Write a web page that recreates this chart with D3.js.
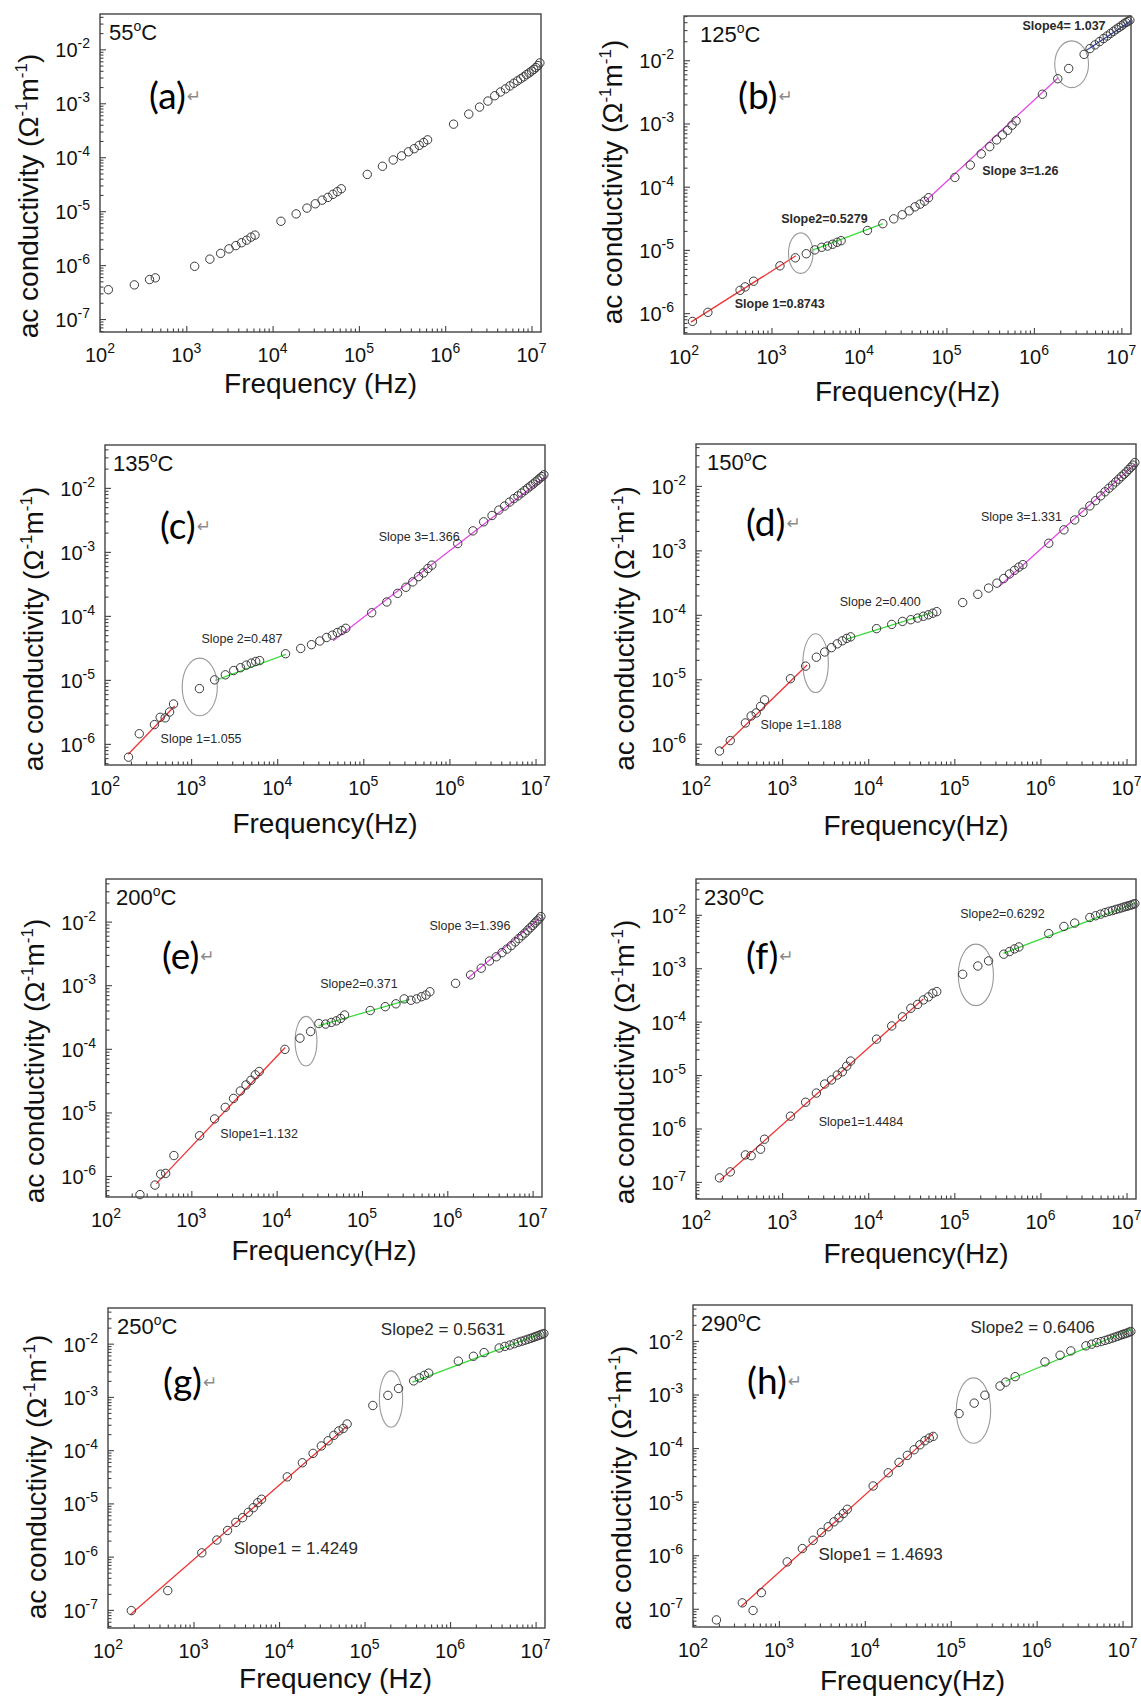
<!DOCTYPE html>
<html><head><meta charset="utf-8">
<script src="https://cdn.jsdelivr.net/npm/d3@7"></script>
<style>body{margin:0;background:#fff}svg{display:block}</style>
</head><body><svg id="c" width="1141" height="1698"></svg>
<script>
// ---------------- DATA ----------------
const temps = ["55","125","135","150","200","230","250","290"];
const letters = ["a","b","c","d","e","f","g","h"];
const xTickExps = [2,3,4,5,6,7];
const yTickExpsWide = [-7,-6,-5,-4,-3,-2];
const yTickExpsNarrow = [-6,-5,-4,-3,-2];

const data55 = [[125,3.5e-7],[250,4.3e-7],[375,5.4e-7],[437.5,5.8e-7],
[1250,9.5e-7],[1875,1.29e-6],[2500,1.65e-6],[3125,2.0e-6],[3750,2.3e-6],[4375,2.6e-6],[5000,2.9e-6],[5625,3.3e-6],[6250,3.6e-6],
[12500,6.5e-6],[18750,8.9e-6],[25000,1.14e-5],[31250,1.37e-5],[37500,1.6e-5],[43750,1.8e-5],[50000,2.05e-5],[56250,2.3e-5],[62500,2.6e-5],
[125000,4.8e-5],[187500,6.8e-5],[250000,8.9e-5],[312500,1.06e-4],[375000,1.26e-4],[437500,1.44e-4],[500000,1.66e-4],[562500,1.87e-4],[625000,2.1e-4],
[1.25e6,4.1e-4],[1.875e6,6.3e-4],[2.5e6,8.5e-4],[3.125e6,1.1e-3],[3.75e6,1.38e-3],[4.375e6,1.62e-3],[5e6,1.85e-3],[5.625e6,2.1e-3],[6.25e6,2.35e-3],[6.875e6,2.6e-3],[7.5e6,2.85e-3],[8.125e6,3.1e-3],[8.75e6,3.4e-3],[9.375e6,3.65e-3],[1e7,3.95e-3],[1.0625e7,4.25e-3],[1.125e7,4.6e-3],[1.1875e7,5.0e-3],[1.25e7,5.6e-3]];

const data125 = [[125,7.4e-7],[187.5,1.03e-6],[437.5,2.3e-6],[500,2.6e-6],[625,3.2e-6],
[1250,5.6e-6],[1875,7.5e-6],[2500,8.7e-6],[3125,1.0e-5],[3750,1.1e-5],[4375,1.15e-5],[5000,1.23e-5],[5625,1.32e-5],[6250,1.4e-5],
[12500,2.03e-5],[18750,2.6e-5],[25000,3.1e-5],[31250,3.6e-5],[37500,4.15e-5],[43750,4.8e-5],[50000,5.3e-5],[56250,5.9e-5],[62500,6.7e-5],
[125000,1.4e-4],[187500,2.2e-4],[250000,3.3e-4],[312500,4.3e-4],[375000,5.5e-4],[437500,6.6e-4],[500000,7.8e-4],[562500,9.4e-4],[625000,1.1e-3],
[1.25e6,2.9e-3],[1.875e6,5.1e-3],[2.5e6,7.4e-3],[3.75e6,1.24e-2],[4.375e6,1.53e-2],[5e6,1.75e-2],[5.625e6,1.97e-2],[6.25e6,2.2e-2],[6.875e6,2.42e-2],[7.5e6,2.65e-2],[8.125e6,2.87e-2],[8.75e6,3.1e-2],[9.375e6,3.3e-2],[1e7,3.5e-2],[1.0625e7,3.75e-2],[1.125e7,3.95e-2],[1.1875e7,4.1e-2],[1.25e7,4.3e-2]];

const data135 = [[187.5,6.2e-7],[250,1.44e-6],[375,2.0e-6],[437.5,2.6e-6],[500,2.55e-6],[562.5,3.15e-6],[625,4.2e-6],
[1250,7.3e-6],[1875,1.0e-5],[2500,1.2e-5],[3125,1.4e-5],[3750,1.55e-5],[4375,1.7e-5],[5000,1.83e-5],[5625,1.94e-5],[6250,2.0e-5],
[12500,2.56e-5],[18750,3.1e-5],[25000,3.55e-5],[31250,4.05e-5],[37500,4.6e-5],[43750,5.0e-5],[50000,5.5e-5],[56250,5.9e-5],[62500,6.4e-5],
[125000,1.12e-4],[187500,1.65e-4],[250000,2.25e-4],[312500,2.8e-4],[375000,3.4e-4],[437500,4.1e-4],[500000,4.7e-4],[562500,5.5e-4],[625000,6.2e-4],
[1.25e6,1.35e-3],[1.875e6,2.13e-3],[2.5e6,2.95e-3],[3.125e6,3.7e-3],[3.75e6,4.5e-3],[4.375e6,5.2e-3],[5e6,6.0e-3],[5.625e6,6.8e-3],[6.25e6,7.5e-3],[6.875e6,8.3e-3],[7.5e6,9.1e-3],[8.125e6,9.9e-3],[8.75e6,1.07e-2],[9.375e6,1.15e-2],[1e7,1.24e-2],[1.0625e7,1.32e-2],[1.125e7,1.42e-2],[1.1875e7,1.5e-2],[1.25e7,1.6e-2]];

const data150 = [[187.5,7.7e-7],[250,1.12e-6],[375,2.1e-6],[437.5,2.7e-6],[500,3.0e-6],[562.5,3.8e-6],[625,4.8e-6],
[1250,1.02e-5],[1875,1.6e-5],[2500,2.2e-5],[3125,2.65e-5],[3750,3.1e-5],[4375,3.55e-5],[5000,3.95e-5],[5625,4.3e-5],[6250,4.55e-5],
[12500,6.1e-5],[18750,7.1e-5],[25000,7.9e-5],[31250,8.4e-5],[37500,8.9e-5],[43750,9.5e-5],[50000,1.0e-4],[56250,1.06e-4],[62500,1.12e-4],
[125000,1.55e-4],[187500,2.08e-4],[250000,2.6e-4],[312500,3.1e-4],[375000,3.65e-4],[437500,4.3e-4],[500000,4.9e-4],[562500,5.5e-4],[625000,6.0e-4],
[1.25e6,1.29e-3],[1.875e6,2.08e-3],[2.5e6,2.96e-3],[3.125e6,3.9e-3],[3.75e6,4.9e-3],[4.375e6,5.9e-3],[5e6,7.0e-3],[5.625e6,8.1e-3],[6.25e6,9.2e-3],[6.875e6,1.03e-2],[7.5e6,1.15e-2],[8.125e6,1.27e-2],[8.75e6,1.4e-2],[9.375e6,1.52e-2],[1e7,1.65e-2],[1.0625e7,1.8e-2],[1.125e7,1.95e-2],[1.1875e7,2.1e-2],[1.25e7,2.3e-2]];

const data200 = [[250,5.1e-7],[375,7.2e-7],[437.5,1.07e-6],[500,1.1e-6],[625,2.1e-6],
[1250,4.3e-6],[1875,7.9e-6],[2500,1.2e-5],[3125,1.66e-5],[3750,2.17e-5],[4375,2.7e-5],[5000,3.2e-5],[5625,3.9e-5],[6250,4.4e-5],
[12500,9.8e-5],[18750,1.47e-4],[25000,1.87e-4],[31250,2.5e-4],[37500,2.45e-4],[43750,2.6e-4],[50000,2.75e-4],[56250,3.0e-4],[62500,3.4e-4],
[125000,4.0e-4],[187500,4.6e-4],[250000,5.1e-4],[312500,6.1e-4],[375000,5.8e-4],[437500,6.1e-4],[500000,6.6e-4],[562500,7.0e-4],[625000,7.9e-4],
[1.25e6,1.07e-3],[1.875e6,1.45e-3],[2.5e6,1.85e-3],[3.125e6,2.4e-3],[3.75e6,2.8e-3],[4.375e6,3.25e-3],[5e6,3.7e-3],[5.625e6,4.2e-3],[6.25e6,4.8e-3],[6.875e6,5.4e-3],[7.5e6,6.0e-3],[8.125e6,6.6e-3],[8.75e6,7.3e-3],[9.375e6,8.0e-3],[1e7,8.7e-3],[1.0625e7,9.5e-3],[1.125e7,1.03e-2],[1.1875e7,1.1e-2],[1.25e7,1.2e-2]];

const data230 = [[187.5,1.19e-7],[250,1.54e-7],[375,3.2e-7],[437.5,3.1e-7],[562.5,4.1e-7],[625,6.3e-7],
[1250,1.7e-6],[1875,3.1e-6],[2500,4.6e-6],[3125,6.8e-6],[3750,8.1e-6],[4375,1.0e-5],[5000,1.15e-5],[5625,1.47e-5],[6250,1.83e-5],
[12500,4.7e-5],[18750,8.3e-5],[25000,1.23e-4],[31250,1.78e-4],[37500,2.1e-4],[43750,2.55e-4],[50000,2.9e-4],[56250,3.4e-4],[62500,3.65e-4],
[125000,7.7e-4],[187500,1.1e-3],[250000,1.37e-3],[375000,1.83e-3],[437500,2.05e-3],[500000,2.3e-3],[562500,2.5e-3],
[1.25e6,4.45e-3],[1.875e6,6.05e-3],[2.5e6,7.0e-3],[3.75e6,8.9e-3],[4.375e6,9.6e-3],[5e6,1.03e-2],[5.625e6,1.1e-2],[6.25e6,1.16e-2],[6.875e6,1.2e-2],[7.5e6,1.26e-2],[8.125e6,1.3e-2],[8.75e6,1.35e-2],[9.375e6,1.4e-2],[1e7,1.44e-2],[1.0625e7,1.48e-2],[1.125e7,1.52e-2],[1.1875e7,1.57e-2],[1.25e7,1.62e-2]];

const data250 = [[187.5,9.7e-8],[500,2.3e-7],
[1250,1.18e-6],[1875,2.05e-6],[2500,3.1e-6],[3125,4.4e-6],[3750,5.4e-6],[4375,6.8e-6],[5000,8.3e-6],[5625,1.03e-5],[6250,1.2e-5],
[12500,3.15e-5],[18750,5.8e-5],[25000,8.7e-5],[31250,1.2e-4],[37500,1.5e-4],[43750,1.9e-4],[50000,2.3e-4],[56250,2.55e-4],[62500,3.1e-4],
[125000,6.9e-4],[187500,1.07e-3],[250000,1.44e-3],[375000,2.0e-3],[437500,2.28e-3],[500000,2.55e-3],[562500,2.8e-3],
[1.25e6,4.7e-3],[1.875e6,5.8e-3],[2.5e6,6.8e-3],[3.75e6,8.3e-3],[4.375e6,8.9e-3],[5e6,9.4e-3],[5.625e6,1.0e-2],[6.25e6,1.06e-2],[6.875e6,1.11e-2],[7.5e6,1.16e-2],[8.125e6,1.21e-2],[8.75e6,1.26e-2],[9.375e6,1.31e-2],[1e7,1.36e-2],[1.0625e7,1.41e-2],[1.125e7,1.46e-2],[1.1875e7,1.5e-2],[1.25e7,1.55e-2]];

const data290 = [[187.5,6.2e-8],[375,1.29e-7],[500,9.3e-8],[625,2.0e-7],
[1250,7.5e-7],[1875,1.33e-6],[2500,1.9e-6],[3125,2.66e-6],[3750,3.4e-6],[4375,4.2e-6],[5000,5.0e-6],[5625,6.0e-6],[6250,7.2e-6],
[12500,1.96e-5],[18750,3.45e-5],[25000,5.4e-5],[31250,7.3e-5],[37500,9.3e-5],[43750,1.15e-4],[50000,1.37e-4],[56250,1.54e-4],[62500,1.65e-4],
[125000,4.4e-4],[187500,6.9e-4],[250000,9.7e-4],[375000,1.44e-3],[437500,1.7e-3],[562500,2.15e-3],
[1.25e6,4.05e-3],[1.875e6,5.4e-3],[2.5e6,6.5e-3],[3.75e6,8.1e-3],[4.375e6,8.7e-3],[5e6,9.3e-3],[5.625e6,9.7e-3],[6.25e6,1.02e-2],[6.875e6,1.07e-2],[7.5e6,1.12e-2],[8.125e6,1.17e-2],[8.75e6,1.22e-2],[9.375e6,1.27e-2],[1e7,1.32e-2],[1.0625e7,1.36e-2],[1.125e7,1.4e-2],[1.1875e7,1.45e-2],[1.25e7,1.5e-2]];

// linear fits in log-log space: [f1, sigma1, f2, sigma2]
const fits55 = [];
const fits125 = [[120,7.2e-7,1900,8.1e-6],[2900,9.8e-6,18750,2.6e-5],[57500,5.9e-5,1.9e6,5.3e-3],[4.0e6,1.44e-2,1.29e7,4.2e-2]];
const fits135 = [[186,6.9e-7,645,3.9e-6],[1900,9.8e-6,12600,2.5e-5],[44700,4.1e-5,1.29e7,1.48e-2]];
const fits150 = [[195,8.3e-7,1950,1.66e-5],[5500,4.17e-5,53700,1.07e-4],[331000,2.75e-4,1.29e7,2.24e-2]];
const fits200 = [[389,7.6e-7,12600,1.05e-4],[30900,2.29e-4,363000,6.0e-4],[1.74e6,1.29e-3,1.2e7,1.12e-2]];
const fits230 = [[190,1.07e-7,43600,2.66e-4],[372000,1.9e-3,1.26e7,1.66e-2]];
const fits250 = [[182,8.1e-8,63000,2.88e-4],[363000,1.9e-3,1.15e7,1.55e-2]];
const fits290 = [[363,1.1e-7,63000,1.9e-4],[437000,1.78e-3,1.29e7,1.66e-2]];

const slopes55 = [];
const slopes125 = ["Slope 1=0.8743","Slope2=0.5279","Slope 3=1.26","Slope4= 1.037"];
const slopes135 = ["Slope 1=1.055","Slope 2=0.487","Slope 3=1.366"];
const slopes150 = ["Slope 1=1.188","Slope 2=0.400","Slope 3=1.331"];
const slopes200 = ["Slope1=1.132","Slope2=0.371","Slope 3=1.396"];
const slopes230 = ["Slope1=1.4484","Slope2=0.6292"];
const slopes250 = ["Slope1 = 1.4249","Slope2 = 0.5631"];
const slopes290 = ["Slope1 = 1.4693","Slope2 = 0.6406"];

// circled outlier groups: [centre f, centre sigma, half-width (decades), half-height (decades)]
const rings55 = [];
const rings125 = [[2160,8.9e-6,0.14,0.32],[2.7e6,8.65e-3,0.193,0.37]];
const rings135 = [[1260,7.76e-6,0.204,0.45]];
const rings150 = [[2450,1.78e-5,0.148,0.456]];
const rings200 = [[22100,1.32e-4,0.128,0.39]];
const rings230 = [[178000,7.5e-4,0.204,0.575]];
const rings250 = [[204000,9.1e-4,0.136,0.53]];
const rings290 = [[184000,5.0e-4,0.2,0.61]];

// ---------------- LAYOUT / STYLE ----------------
const FMIN = 100, FMAX = Math.pow(10, 7.11);
const fitColors = ["#ef3535", "#3cdc3c", "#e24ae2", "#3346b0"];
const layout = [
 {data:data55, fits:fits55, slopes:slopes55, rings:rings55, box:[100,14,541,332], yLo:-7.24, yHi:-1.345, yt:yTickExpsWide,
  notes:[], nf:{size:12.5,weight:"normal"}, xTitle:"Frequency (Hz)", xtDy:61, xtDx:0, ytDy:23, letter:[49,95], tx:9},
 {data:data125, fits:fits125, slopes:slopes125, rings:rings125, box:[684,16,1131,334], yLo:-6.33, yHi:-1.3, yt:yTickExpsNarrow,
  notes:[[380,1.41e-6],[1290,3.16e-5],[257000,1.78e-4],[741000,3.47e-2]], nf:{size:12.5,weight:"bold"}, xTitle:"Frequency(Hz)", xtDy:67, xtDx:0, ytDy:7, letter:[54,93], tx:16},
 {data:data135, fits:fits135, slopes:slopes135, rings:rings135, box:[105,445,545,765], yLo:-6.33, yHi:-1.33, yt:yTickExpsNarrow,
  notes:[[442,1.23e-6],[1318,4.37e-5],[151000,1.74e-3]], nf:{size:12.5,weight:"normal"}, xTitle:"Frequency(Hz)", xtDy:68, xtDx:0, ytDy:24, letter:[55,94], tx:8},
 {data:data150, fits:fits150, slopes:slopes150, rings:rings150, box:[696,444,1136,765], yLo:-6.33, yHi:-1.35, yt:yTickExpsNarrow,
  notes:[[562,2.0e-6],[4677,1.58e-4],[204000,3.39e-3]], nf:{size:12.5,weight:"normal"}, xTitle:"Frequency(Hz)", xtDy:70, xtDx:0, ytDy:24, letter:[50,92], tx:11},
 {data:data200, fits:fits200, slopes:slopes200, rings:rings200, box:[106,879,542,1197], yLo:-6.33, yHi:-1.33, yt:yTickExpsNarrow,
  notes:[[2188,4.57e-6],[32400,1.05e-3],[617000,8.7e-3]], nf:{size:12.5,weight:"normal"}, xTitle:"Frequency(Hz)", xtDy:63, xtDx:0, ytDy:23, letter:[56,90], tx:10},
 {data:data230, fits:fits230, slopes:slopes230, rings:rings230, box:[696,879,1136,1199], yLo:-7.32, yHi:-1.33, yt:yTickExpsWide,
  notes:[[2660,1.33e-6],[117000,1.05e-2]], nf:{size:12.5,weight:"normal"}, xTitle:"Frequency(Hz)", xtDy:64, xtDx:0, ytDy:23, letter:[50,90], tx:8},
 {data:data250, fits:fits250, slopes:slopes250, rings:rings250, box:[108,1308,545,1628], yLo:-7.34, yHi:-1.33, yt:yTickExpsWide,
  notes:[[2950,1.48e-6],[155000,1.9e-2]], nf:{size:17,weight:"normal"}, xTitle:"Frequency (Hz)", xtDy:60, xtDx:9, ytDy:9, letter:[55,87], tx:9},
 {data:data290, fits:fits290, slopes:slopes290, rings:rings290, box:[693,1305,1132,1627], yLo:-7.34, yHi:-1.33, yt:yTickExpsWide,
  notes:[[2884,1.05e-6],[170000,1.78e-2]], nf:{size:17,weight:"normal"}, xTitle:"Frequency(Hz)", xtDy:63, xtDx:0, ytDy:22, letter:[54,89], tx:8}
];

const FONT = "'Liberation Sans', Arial, Helvetica, sans-serif";
const svg = d3.select("#c");
svg.append("rect").attr("width",1141).attr("height",1698).attr("fill","#fff");

// rich text with superscripts: parts = [[text, isSup], ...]
function rich(textSel, parts, base, sup, raise) {
  let up = false;
  parts.forEach(([t, s]) => {
    const ts = textSel.append("tspan").text(t).attr("font-size", s ? sup : base);
    if (s && !up) { ts.attr("dy", -raise); up = true; }
    else if (!s && up) { ts.attr("dy", raise); up = false; }
  });
}

layout.forEach((p, i) => {
  const [L, T, R, B] = p.box;
  const x = d3.scaleLog().domain([FMIN, FMAX]).range([L, R]);
  const y = d3.scaleLog().domain([Math.pow(10, p.yLo), Math.pow(10, p.yHi)]).range([B, T]);
  const g = svg.append("g").attr("font-family", FONT);

  // ticks
  const xMaj = xTickExps.map(e => Math.pow(10, e));
  const xMinr = [];
  xTickExps.forEach(e => { for (let k = 2; k < 10; k++) { const v = k * Math.pow(10, e); if (v < FMAX) xMinr.push(v); } });
  const yMaj = p.yt.map(e => Math.pow(10, e));
  const yMinr = [];
  for (let e = Math.floor(p.yLo); e <= -2; e++) { for (let k = 2; k < 10; k++) { const v = k * Math.pow(10, e); if (v > y.domain()[0] && v < y.domain()[1]) yMinr.push(v); } }

  const styleAxis = s => { s.select(".domain").remove(); s.selectAll("line").attr("stroke", "#444").attr("stroke-width", 1.1); };
  g.append("g").attr("transform", `translate(0,${B})`).call(d3.axisBottom(x).tickValues(xMaj).tickSize(-6).tickFormat("")).call(styleAxis);
  g.append("g").attr("transform", `translate(0,${B})`).call(d3.axisBottom(x).tickValues(xMinr).tickSize(-3.5).tickFormat("")).call(styleAxis);
  g.append("g").attr("transform", `translate(${L},0)`).call(d3.axisLeft(y).tickValues(yMaj).tickSize(-6).tickFormat("")).call(styleAxis);
  g.append("g").attr("transform", `translate(${L},0)`).call(d3.axisLeft(y).tickValues(yMinr).tickSize(-3.5).tickFormat("")).call(styleAxis);

  // frame
  g.append("rect").attr("x", L).attr("y", T).attr("width", R - L).attr("height", B - T)
    .attr("fill", "none").attr("stroke", "#444").attr("stroke-width", 1.4);

  // tick labels
  xTickExps.forEach(e => {
    const t = g.append("text").attr("x", x(Math.pow(10, e))).attr("y", B + 30).attr("text-anchor", "middle").attr("fill", "#111");
    rich(t, [["10", 0], [String(e), 1]], 20, 14, 9);
  });
  p.yt.forEach(e => {
    const t = g.append("text").attr("x", L - 10).attr("y", y(Math.pow(10, e)) + 8).attr("text-anchor", "end").attr("fill", "#111");
    rich(t, [["10", 0], [String(e), 1]], 20, 14, 9);
  });

  // fit lines
  p.fits.forEach((f, k) => {
    g.append("line").attr("x1", x(f[0])).attr("y1", y(f[1])).attr("x2", x(f[2])).attr("y2", y(f[3]))
      .attr("stroke", fitColors[k]).attr("stroke-width", 1.3);
  });

  // ellipses
  p.rings.forEach(r => {
    const cx = x(r[0]), cy = y(r[1]);
    g.append("ellipse").attr("cx", cx).attr("cy", cy)
      .attr("rx", x(r[0] * Math.pow(10, r[2])) - cx).attr("ry", cy - y(r[1] * Math.pow(10, r[3])))
      .attr("fill", "none").attr("stroke", "#9a9a9a").attr("stroke-width", 1.1);
  });

  // data points
  g.append("g").selectAll("circle").data(p.data).join("circle")
    .attr("cx", d => x(d[0])).attr("cy", d => y(d[1])).attr("r", 4.2)
    .attr("fill", "none").attr("stroke", "#3a3a3a").attr("stroke-width", 1);

  // slope annotations
  p.slopes.forEach((s, k) => {
    const a = p.notes[k];
    g.append("text").attr("x", x(a[0])).attr("y", y(a[1])).attr("dy", "0.35em")
      .attr("font-size", p.nf.size).attr("font-weight", p.nf.weight).attr("fill", "#2a2a2a").text(s);
  });

  // temperature
  const tt = g.append("text").attr("x", L + p.tx).attr("y", T + 26).attr("fill", "#111");
  rich(tt, [[temps[i], 0], ["o", 1], ["C", 0]], 22, 14, 9);

  // panel letter
  const lt = g.append("text").attr("x", L + p.letter[0]).attr("y", T + p.letter[1])
    .attr("font-family", "Lato, 'Open Sans', sans-serif").attr("font-size", 37).attr("fill", "#000");
  lt.append("tspan").text(`(${letters[i]})`);
  lt.append("tspan").text("\u21B5").attr("font-size", 17).attr("fill", "#8a8a8a").attr("dx", 1).attr("dy", -7)
    .attr("font-family", "'DejaVu Sans', sans-serif");

  // axis titles
  g.append("text").attr("x", (L + R) / 2 + p.xtDx).attr("y", B + p.xtDy).attr("text-anchor", "middle")
    .attr("font-size", 28).attr("fill", "#111").text(p.xTitle);
  const yc = (T + B) / 2 + p.ytDy;
  const yt = g.append("text").attr("transform", `translate(${L - 62},${yc}) rotate(-90)`)
    .attr("text-anchor", "middle").attr("fill", "#111");
  rich(yt, [["ac conductivity (\u03A9", 0], ["-1", 1], ["m", 0], ["-1", 1], [")", 0]], 28, 17, 11);
});
</script>
</body></html>
